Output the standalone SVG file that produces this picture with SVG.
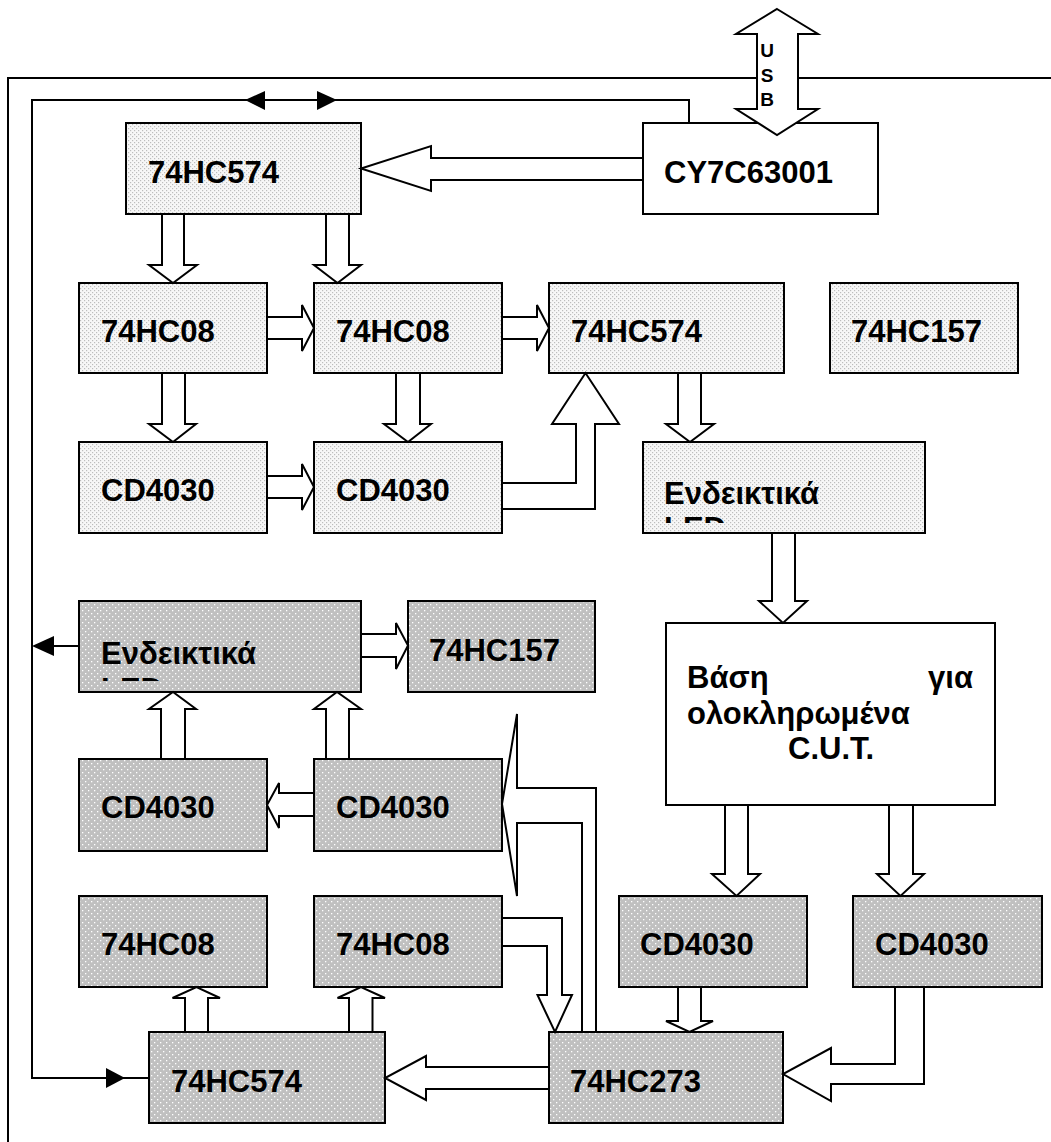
<svg xmlns="http://www.w3.org/2000/svg" width="1051" height="1142" viewBox="0 0 1051 1142">
  <defs>
    <!-- light dotted fill (upper blocks) -->
    <pattern id="dotsLight" width="4" height="4" patternUnits="userSpaceOnUse">
      <rect width="4" height="4" fill="#f7f7f7"/>
      <rect x="0" y="0" width="1.2" height="1.2" fill="#bdbdbd"/>
      <rect x="2" y="2" width="1.2" height="1.2" fill="#bdbdbd"/>
    </pattern>
    <!-- dark dotted fill (lower blocks) -->
    <pattern id="dotsDark" width="6" height="6" patternUnits="userSpaceOnUse">
      <rect width="6" height="6" fill="#c0c0c0"/>
      <rect x="1" y="1" width="1.3" height="1.3" fill="#ffffff"/>
      <rect x="4" y="4" width="1.3" height="1.3" fill="#ffffff"/>
    </pattern>
    <clipPath id="clipLedUp"><rect x="643" y="442" width="282" height="81"/></clipPath>
    <clipPath id="clipLedLow"><rect x="79" y="601" width="282" height="80"/></clipPath>
    <marker id="headFill" viewBox="0 0 20 18" refX="20" refY="9" markerWidth="20" markerHeight="18" markerUnits="userSpaceOnUse" orient="auto">
      <path d="M0,0 L20,9 L0,18 Z" fill="#000"/>
    </marker>
  </defs>
  <style>
    .light { fill: url(#dotsLight); stroke: #000; stroke-width: 2; }
    .dark { fill: url(#dotsDark); stroke: #000; stroke-width: 2; }
    .plain { fill: #fff; stroke: #000; stroke-width: 2; }
    .lbl { font-family: "Liberation Sans", Arial, sans-serif; font-weight: bold; font-size: 31px; fill: #000; }
    .usb { font-family: "Liberation Sans", Arial, sans-serif; font-weight: bold; font-size: 19px; fill: #000; }
    .block { fill: #fff; stroke: #000; stroke-width: 2; stroke-linejoin: miter; }
    .wire { fill: none; stroke: #000; stroke-width: 2; }
    .tri { fill: #000; stroke: none; }
  </style>

  <rect width="1051" height="1142" fill="#fff"/>

  <!-- upper section -->
  <g id="n-74hc574-top">
    <rect class="light" x="126" y="123" width="235" height="91"/>
    <text class="lbl" x="148" y="183">74HC574</text>
  </g>
  <g id="n-cy7c63001">
    <rect class="plain" x="643" y="123" width="235" height="91"/>
    <text class="lbl" x="664" y="183">CY7C63001</text>
  </g>
  <g id="n-74hc08-a">
    <rect class="light" x="79" y="283" width="188" height="90"/>
    <text class="lbl" x="101" y="342">74HC08</text>
  </g>
  <g id="n-74hc08-b">
    <rect class="light" x="314" y="283" width="188" height="90"/>
    <text class="lbl" x="336" y="342">74HC08</text>
  </g>
  <g id="n-74hc574-mid">
    <rect class="light" x="549" y="283" width="235" height="90"/>
    <text class="lbl" x="571" y="342">74HC574</text>
  </g>
  <g id="n-74hc157-top">
    <rect class="light" x="830" y="283" width="188" height="90"/>
    <text class="lbl" x="851" y="342">74HC157</text>
  </g>
  <g id="n-cd4030-a">
    <rect class="light" x="79" y="442" width="188" height="91"/>
    <text class="lbl" x="101" y="501">CD4030</text>
  </g>
  <g id="n-cd4030-b">
    <rect class="light" x="314" y="442" width="188" height="91"/>
    <text class="lbl" x="336" y="501">CD4030</text>
  </g>
  <g id="n-led-top">
    <rect class="light" x="643" y="442" width="282" height="91"/>
    <text class="lbl" x="664" y="504" clip-path="url(#clipLedUp)">Ενδεικτικά<tspan x="664" dy="35">LED</tspan></text>
  </g>
  <g id="n-socket">
    <rect class="plain" x="666" y="623" width="329" height="182"/>
    <text class="lbl" x="687" y="688">Βάση</text>
    <text class="lbl" x="973" y="688" text-anchor="end">για</text>
    <text class="lbl" x="687" y="724">ολοκληρωμένα</text>
    <text class="lbl" x="788" y="759">C.U.T.</text>
  </g>

  <!-- lower section -->
  <g id="n-led-low">
    <rect class="dark" x="79" y="601" width="282" height="91"/>
    <text class="lbl" x="101" y="664" clip-path="url(#clipLedLow)">Ενδεικτικά<tspan x="101" dy="36">LED</tspan></text>
  </g>
  <g id="n-74hc157-low">
    <rect class="dark" x="408" y="601" width="187" height="91"/>
    <text class="lbl" x="429" y="661">74HC157</text>
  </g>
  <g id="n-cd4030-c">
    <rect class="dark" x="79" y="759" width="188" height="92"/>
    <text class="lbl" x="101" y="818">CD4030</text>
  </g>
  <g id="n-cd4030-d">
    <rect class="dark" x="314" y="759" width="188" height="92"/>
    <text class="lbl" x="336" y="818">CD4030</text>
  </g>
  <g id="n-74hc08-c">
    <rect class="dark" x="79" y="896" width="188" height="91"/>
    <text class="lbl" x="101" y="955">74HC08</text>
  </g>
  <g id="n-74hc08-d">
    <rect class="dark" x="314" y="896" width="188" height="91"/>
    <text class="lbl" x="336" y="955">74HC08</text>
  </g>
  <g id="n-cd4030-e">
    <rect class="dark" x="619" y="896" width="188" height="91"/>
    <text class="lbl" x="640" y="955">CD4030</text>
  </g>
  <g id="n-cd4030-f">
    <rect class="dark" x="853" y="896" width="189" height="91"/>
    <text class="lbl" x="875" y="955">CD4030</text>
  </g>
  <g id="n-74hc574-low">
    <rect class="dark" x="149" y="1032" width="236" height="91"/>
    <text class="lbl" x="171" y="1092">74HC574</text>
  </g>
  <g id="n-74hc273">
    <rect class="dark" x="549" y="1032" width="234" height="91"/>
    <text class="lbl" x="570" y="1092">74HC273</text>
  </g>

  <g id="connectors">
    <!-- outer frame line -->
    <path class="wire" d="M1051,78 H8 V1142"/>
    <!-- control loop line with direction marks -->
    <path class="wire" d="M689,123 V100 H32 V1078 H149"/>
    <path class="tri" d="M245,100 L265,91 L265,110 Z"/>
    <path class="tri" d="M337,100 L317,91 L317,110 Z"/>
    <path class="tri" d="M125,1078 L106,1068 L106,1088 Z"/>
    <path class="wire" d="M79,646 H52"/>
    <path class="tri" d="M32,646 L54,636 L54,656 Z"/>

    <!-- USB bus -->
    <polygon class="block" points="777,9 818,34 798,34 798,109 818,109 777,135 736,109 757,109 757,34 736,34"/>
    <text class="usb" x="767" y="57" text-anchor="middle">U</text>
    <text class="usb" x="767" y="82" text-anchor="middle">S</text>
    <text class="usb" x="767" y="106" text-anchor="middle">B</text>

    <!-- upper buses -->
    <polygon class="block" points="643,158 431,158 431,146 361,168.5 431,191 431,180 643,180"/>
    <polygon class="block" points="162,214 162,265 149,265 173,283 197,265 184,265 184,214"/>
    <polygon class="block" points="326,214 326,265 314,265 337.5,283 361,265 349,265 349,214"/>
    <polygon class="block" points="267,317 302,317 302,305 314,328 302,351 302,339 267,339"/>
    <polygon class="block" points="502,317 537,317 537,305 549,328 537,351 537,339 502,339"/>
    <polygon class="block" points="162,373 162,424 149,424 173,442 196,424 185,424 185,373"/>
    <polygon class="block" points="396,373 396,424 384,424 408,442 431,424 420,424 420,373"/>
    <polygon class="block" points="267,476 302,476 302,464 314,487 302,510 302,498 267,498"/>
    <polygon class="block" points="502,483 576,483 576,424 552,424 585.5,373 619,424 595,424 595,509 502,509"/>
    <polygon class="block" points="678,373 678,424 666,424 690,442 714,424 701,424 701,373"/>
    <polygon class="block" points="772,533 772,601 759,601 783,623 807,601 795,601 795,533"/>

    <!-- lower buses -->
    <polygon class="block" points="361,634 396,634 396,623 408,645.5 396,669 396,657 361,657"/>
    <polygon class="block" points="161,759 161,709 149,709 173,692 196,709 185,709 185,759"/>
    <polygon class="block" points="326,759 326,709 314,709 337,692 361,709 349,709 349,759"/>
    <polygon class="block" points="314,793 279,793 279,783 267,805 279,828 279,816 314,816"/>
    <polygon class="block" points="596,1032 596,788 517,788 517,714 502,804 517,896 517,823 582,823 582,1032"/>
    <polygon class="block" points="725,805 725,874 712,874 736.5,896 760,874 748,874 748,805"/>
    <polygon class="block" points="889,805 889,874 877,874 900.5,896 924,874 913,874 913,805"/>
    <polygon class="block" points="678,987 678,1021 666,1021 689.5,1032 713,1021 701,1021 701,987"/>
    <polygon class="block" points="895,987 895,1064 831,1064 831,1048 783,1074 831,1101 831,1084 924,1084 924,987"/>
    <polygon class="block" points="502,918 562,918 562,995 572,995 555,1032 537.5,995 547,995 547,946 502,946"/>
    <polygon class="block" points="549,1067 426,1067 426,1056 385,1078 426,1100 426,1089 549,1089"/>
    <polygon class="block" points="185,1032 185,998 172.5,998 196.5,987 220,998 208,998 208,1032"/>
    <polygon class="block" points="349,1032 349,998 337.5,998 361,987 385,998 372.5,998 372.5,1032"/>
  </g>
</svg>
